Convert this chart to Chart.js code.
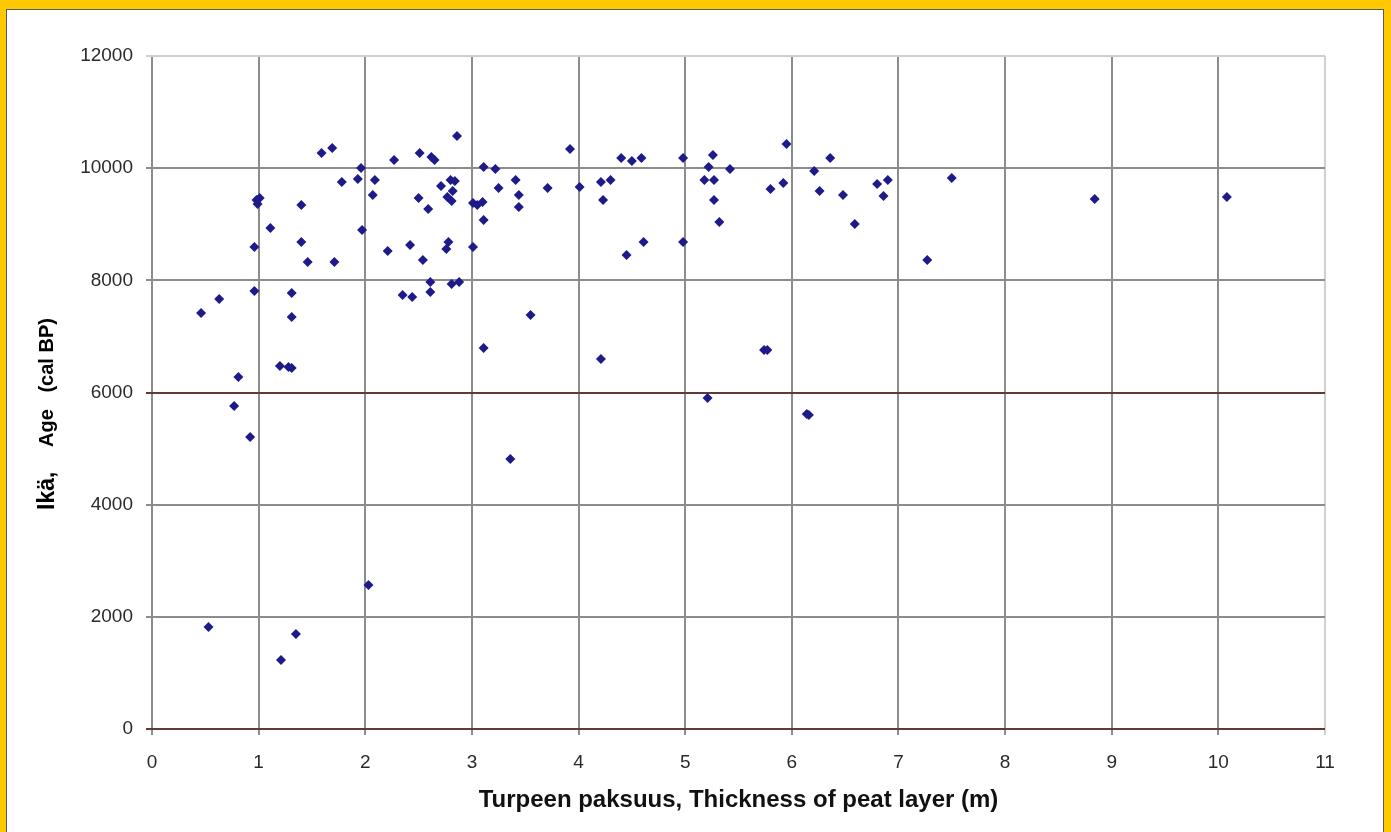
<!DOCTYPE html>
<html>
<head>
<meta charset="utf-8">
<script src="https://cdn.jsdelivr.net/npm/chart.js@4.4.1/dist/chart.umd.min.js"></script>
<style>
  html, body { margin: 0; padding: 0; background: #FFC800; width: 1391px; height: 832px; overflow: hidden; }
  .frame { position: absolute; left: 6px; top: 9px; width: 1376px; height: 823px; background: #fff; border: 1px solid #5a5a5a; border-bottom: none; }
  #wrap { position: absolute; left: 0; top: 0; width: 1391px; height: 832px; }
</style>
</head>
<body>
<div class="frame"></div>
<div id="wrap"><canvas id="myChart" width="1391" height="832"></canvas></div>
<script>
// Turpeen paksuus (m)
const thickness = [
  0.46, 0.63, 0.53, 0.77, 0.81, 0.92, 0.96, 0.96, 0.98, 0.99, 1.01, 1.11,
  1.20, 1.28, 1.31, 1.31, 1.31, 1.21, 1.35, 1.40, 1.40, 1.46, 1.59, 1.69,
  1.71, 1.78, 1.93, 1.96, 2.09, 2.07, 1.97, 2.03, 2.21, 2.27, 2.42, 2.35,
  2.44, 2.51, 2.62, 2.65, 2.50, 2.59, 2.54, 2.61, 2.61, 2.71, 2.80, 2.84,
  2.82, 2.77, 2.81, 2.78, 2.76, 2.81, 2.88, 2.86, 3.01, 3.05, 3.10, 3.11,
  3.11, 3.01, 3.11, 3.22, 3.25, 3.41, 3.44, 3.44, 3.55, 3.36, 3.71, 3.92,
  4.01, 4.21, 4.30, 4.23, 4.21, 4.40, 4.50, 4.59, 4.45, 4.61, 4.98, 4.98,
  5.26, 5.22, 5.18, 5.27, 5.27, 5.32, 5.42, 5.21, 5.74, 5.77, 5.95, 5.80,
  5.92, 6.14, 6.16, 6.21, 6.26, 6.36, 6.48, 6.59, 6.80, 6.90, 6.86, 7.27,
  7.50, 8.84, 10.08
];
// Ikä, Age (cal BP)
const age = [
  7417, 7667, 1819, 5759, 6276, 5206, 7810, 8594, 9432, 9361, 9468, 8933,
  6472, 6454, 6437, 7774, 7346, 1230, 1694, 9343, 8683, 8327, 10270, 10359,
  8327, 9753, 9807, 10003, 9789, 9521, 8897, 2568, 8523, 10145, 8630, 7738,
  7703, 10270, 10199, 10145, 9468, 9272, 8362, 7970, 7792, 9682, 9789, 9771,
  9593, 9486, 9414, 8683, 8558, 7934, 7970, 10573, 9379, 9343, 9396, 9075,
  10020, 8594, 6793, 9985, 9646, 9789, 9521, 9307, 7382, 4814, 9646, 10341,
  9664, 9753, 9789, 9432, 6597, 10181, 10127, 10181, 8451, 8683, 10181, 8683,
  10234, 10020, 9789, 9789, 9432, 9040, 9985, 5902, 6758, 6758, 10431, 9628,
  9735, 5616, 5600, 9949, 9593, 10181, 9521, 9004, 9717, 9789, 9503, 8362,
  9824, 9450, 9486
];
const xTicks = [0, 1, 2, 3, 4, 5, 6, 7, 8, 9, 10, 11];
const yTicks = [0, 2000, 4000, 6000, 8000, 10000, 12000];

const points = thickness.map((t, i) => ({ x: t, y: age[i] }));
const FONT = '"Liberation Sans", Arial, sans-serif';

// y-akselin otsikko kahdella fonttikoolla
const yTitle = {
    id: 'yTitle',
    afterDraw(chart) {
        const ctx = chart.ctx;
        ctx.save();
        ctx.translate(47, 406);
        ctx.rotate(-Math.PI / 2);
        ctx.fillStyle = '#000';
        ctx.textBaseline = 'middle';
        ctx.textAlign = 'left';
        ctx.font = 'bold 23px ' + FONT;
        ctx.fillText('Ikä,', -104, 1);
        ctx.font = 'bold 20px ' + FONT;
        ctx.fillText('Age   (cal BP)', -41, 0);
        ctx.restore();
    }
};

const ctx = document.getElementById('myChart').getContext('2d');
new Chart(ctx, {
    type: 'scatter',
    data: {
        datasets: [{
            data: points,
            pointStyle: 'rectRot',
            pointRadius: 5,
            backgroundColor: '#1f1a8a',
            borderColor: '#1f1a8a',
            borderWidth: 0
        }]
    },
    options: {
        responsive: false,
        animation: false,
        layout: { padding: { top: 56, right: 66, left: 0, bottom: 0 } },
        plugins: { legend: { display: false }, tooltip: { enabled: false } },
        scales: {
            x: {
                type: 'linear',
                min: 0,
                max: 11,
                afterBuildTicks: s => { s.ticks = xTicks.map(v => ({ value: v })); },
                afterFit: s => { s.height = 103; },
                ticks: {
                    color: '#2a2a2a',
                    font: { family: FONT, size: 19 },
                    padding: 16,
                    callback: v => String(v)
                },
                grid: {
                    color: c => c.tick && c.tick.value === 11 ? '#d0d0d0' : '#8c8c8c',
                    lineWidth: 2,
                    tickLength: 6
                },
                border: { display: false },
                title: {
                    display: true,
                    text: 'Turpeen paksuus, Thickness of peat layer (m)',
                    color: '#111',
                    font: { family: FONT, size: 24, weight: 'bold' },
                    padding: { top: 2, bottom: 17 }
                }
            },
            y: {
                type: 'linear',
                min: 0,
                max: 12000,
                afterBuildTicks: s => { s.ticks = yTicks.map(v => ({ value: v })); },
                afterFit: s => { s.width = 152; },
                ticks: {
                    color: '#2a2a2a',
                    font: { family: FONT, size: 19 },
                    padding: 13,
                    callback: v => String(v)
                },
                grid: {
                    color: c => {
                        const v = c.tick ? c.tick.value : -1;
                        if (v === 0 || v === 6000) return '#5e3a3a';
                        if (v === 12000) return '#cfcfcf';
                        return '#8c8c8c';
                    },
                    lineWidth: 2,
                    tickLength: 6
                },
                border: { display: false }
            }
        }
    },
    plugins: [yTitle]
});
</script>
</body>
</html>
